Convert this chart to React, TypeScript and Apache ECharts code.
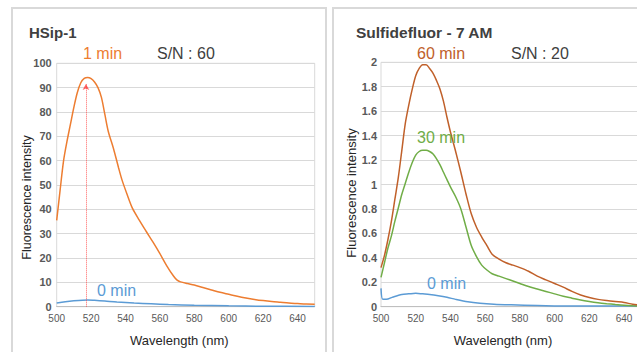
import React, { useEffect, useRef } from "react";
import * as echarts from "echarts";

// ---- Left panel: HSip-1 ----
const hsipWl1 = [500, 502, 504, 506, 508, 510, 512, 514, 516, 518, 520, 522, 524, 526, 528, 530, 533, 536, 538, 541, 544, 548, 552, 556, 560, 564, 568, 570, 572, 576, 580, 585, 590, 595, 600, 605, 610, 615, 620, 625, 630, 635, 640, 645, 650];
const hsip1Min = [35.5, 48, 60, 68, 75, 82, 88, 92, 93.8, 94.2, 93.7, 92.3, 90, 86, 79, 72, 65, 57, 52, 46, 40.5, 35.6, 31, 26.5, 21.8, 16.8, 12.5, 10.9, 10.2, 9.5, 8.9, 7.9, 6.9, 5.9, 5.1, 4.3, 3.6, 3, 2.5, 2.1, 1.8, 1.5, 1.3, 1.1, 1];
const hsipWl0 = [500, 505, 510, 515, 518, 522, 528, 535, 545, 555, 565, 580, 600, 620, 650];
const hsip0Min = [1.5, 2.0, 2.4, 2.7, 2.75, 2.6, 2.3, 1.9, 1.5, 1.2, 0.9, 0.6, 0.35, 0.2, 0.1];
const hsipPeakWl = 517;
const hsipArrowTop = 91.5;

// ---- Right panel: Sulfidefluor - 7 AM ----
const sfWl = [500, 502, 504, 506, 508, 510, 512, 514, 516, 518, 520, 522, 524, 526, 528, 530, 532, 534, 536, 538, 540, 543, 546, 549, 552, 555, 558, 561, 564, 568, 572, 576, 580, 585, 590, 595, 600, 605, 610, 615, 620, 625, 630, 635, 640, 645, 650];
const sf60Min = [0.32, 0.42, 0.55, 0.7, 0.88, 1.06, 1.28, 1.5, 1.65, 1.78, 1.89, 1.95, 1.98, 1.98, 1.95, 1.91, 1.85, 1.78, 1.68, 1.55, 1.43, 1.27, 1.1, 0.92, 0.76, 0.65, 0.57, 0.5, 0.43, 0.39, 0.36, 0.34, 0.32, 0.29, 0.25, 0.22, 0.19, 0.16, 0.125, 0.096, 0.075, 0.06, 0.05, 0.042, 0.035, 0.02, 0.012];
const sf30Min = [0.24, 0.36, 0.48, 0.58, 0.7, 0.81, 0.92, 1.01, 1.1, 1.18, 1.24, 1.27, 1.28, 1.28, 1.27, 1.25, 1.21, 1.16, 1.1, 1.04, 0.98, 0.9, 0.8, 0.65, 0.5, 0.41, 0.34, 0.3, 0.27, 0.25, 0.23, 0.21, 0.19, 0.165, 0.145, 0.125, 0.105, 0.085, 0.07, 0.055, 0.043, 0.033, 0.025, 0.018, 0.012, 0.008, 0.005];
const sfWl0 = [500, 501, 503, 507, 512, 516, 520, 524, 528, 533, 538, 543, 550, 557, 565, 575, 590, 610, 630, 650];
const sf0Min = [0.15, 0.06, 0.06, 0.08, 0.1, 0.105, 0.11, 0.105, 0.1, 0.09, 0.077, 0.06, 0.04, 0.028, 0.02, 0.015, 0.01, 0.005, 0.005, 0.005];

const pairs = (xs: number[], ys: number[]) => xs.map((x, i) => [x, ys[i]]);

const FONT = "Liberation Sans, Arial, sans-serif";

export default function App() {
  const ref = useRef<HTMLDivElement>(null);
  useEffect(() => {
    if (!ref.current) return;
    const chart = echarts.init(ref.current, null, { renderer: "svg" });
    const xAxisBase = (gridIndex: number) => ({
      type: "value" as const,
      gridIndex,
      min: 500,
      max: 650,
      interval: 20,
      axisLine: { show: true, lineStyle: { color: "#bfbfbf", width: 1 } },
      axisTick: { show: false },
      axisLabel: { color: "#595959", fontSize: 10, margin: 7, fontFamily: FONT, showMaxLabel: false },
      splitLine: { show: false },
    });
    const yAxisBase = (gridIndex: number, max: number, interval: number, margin: number) => ({
      type: "value" as const,
      gridIndex,
      min: 0,
      max,
      interval,
      axisLine: { show: false },
      axisTick: { show: false },
      axisLabel: { color: "#595959", fontSize: 11, fontWeight: "bold" as const, margin, fontFamily: FONT },
      splitLine: { show: true, lineStyle: { color: "#d9d9d9", width: 1 } },
    });
    const lineSeries = (name: string, data: number[][], color: string, xi: number, extra: any = {}) => ({
      type: "line" as const,
      name,
      xAxisIndex: xi,
      yAxisIndex: xi,
      data,
      smooth: 0.3,
      showSymbol: false,
      symbol: "none",
      lineStyle: { color, width: 1.5 },
      z: 3,
      ...extra,
    });
    const txt = (text: string, x: number, y: number, fill: string, fontSize: number, bold = false, extra: any = {}) => ({
      type: "text" as const,
      x,
      y,
      silent: true,
      z: 10,
      style: {
        text,
        fill,
        fontSize,
        fontWeight: bold ? "bold" : "normal",
        fontFamily: FONT,
        textAlign: "left",
        textVerticalAlign: "middle",
        ...(extra.style || {}),
      },
      ...(extra.rest || {}),
    });
    chart.setOption({
      animation: false,
      backgroundColor: "#ffffff",
      grid: [
        { left: 56.7, top: 63.3, width: 258, height: 243.4, show: true, borderColor: "#d9d9d9", borderWidth: 1, backgroundColor: "transparent" },
        { left: 381, top: 62.3, width: 260.4, height: 244.4, show: true, borderColor: "#d9d9d9", borderWidth: 1, backgroundColor: "transparent" },
      ],
      xAxis: [xAxisBase(0), xAxisBase(1)],
      yAxis: [yAxisBase(0, 100, 10, 5), yAxisBase(1, 2, 0.2, 4)],
      series: [
        lineSeries("0 min", pairs(hsipWl0, hsip0Min), "#5B9BD5", 0),
        lineSeries("1 min", pairs(hsipWl1, hsip1Min), "#ED7D31", 0, {
          markLine: {
            silent: true,
            symbol: ["none", "arrow"],
            symbolSize: [5, 6],
            label: { show: false },
            lineStyle: { color: "#ff3b3b", type: "dotted", width: 1, opacity: 0.8 },
            data: [[{ coord: [hsipPeakWl, 0] }, { coord: [hsipPeakWl, hsipArrowTop] }]],
          },
        }),
        lineSeries("0 min", pairs(sfWl0, sf0Min), "#5B9BD5", 1),
        lineSeries("30 min", pairs(sfWl, sf30Min), "#70AD47", 1),
        lineSeries("60 min", pairs(sfWl, sf60Min), "#C0602A", 1),
      ],
      graphic: [
        { type: "rect", shape: { x: 12, y: 8, width: 314, height: 400 }, style: { fill: "none", stroke: "#d9d9d9", lineWidth: 2 }, silent: true, z: 0 },
        { type: "rect", shape: { x: 333, y: 8, width: 400, height: 400 }, style: { fill: "none", stroke: "#d9d9d9", lineWidth: 2 }, silent: true, z: 0 },
        txt("HSip-1", 29, 32, "#404040", 15, true),
        txt("Sulfidefluor - 7 AM", 356, 32, "#404040", 15.5, true),
        txt("1 min", 83, 53, "#ED7D31", 16),
        txt("S/N : 60", 157, 53, "#404040", 16),
        txt("0 min", 97, 290, "#5B9BD5", 16),
        txt("60 min", 417, 53, "#C0602A", 16),
        txt("S/N : 20", 511, 53, "#404040", 16),
        txt("30 min", 417, 137, "#70AD47", 16),
        txt("0 min", 427, 283, "#5B9BD5", 16),
        txt("Wavelength (nm)", 179.3, 340, "#262626", 13, false, { style: { textAlign: "center" } }),
        txt("Wavelength (nm)", 503, 340, "#262626", 13, false, { style: { textAlign: "center" } }),
        txt("Fluorescence intensity", 27, 197.5, "#262626", 12.5, false, { style: { textAlign: "center" }, rest: { rotation: Math.PI / 2 } }),
        txt("Fluorescence intensity", 351.5, 193, "#262626", 13, false, { style: { textAlign: "center" }, rest: { rotation: Math.PI / 2 } }),
      ],
    });
    return () => chart.dispose();
  }, []);
  return (
    <div style={{ position: "fixed", left: 0, top: 0, width: 637, height: 352, overflow: "hidden", background: "#fff" }}>
      <div ref={ref} style={{ width: 680, height: 352 }} />
    </div>
  );
}
